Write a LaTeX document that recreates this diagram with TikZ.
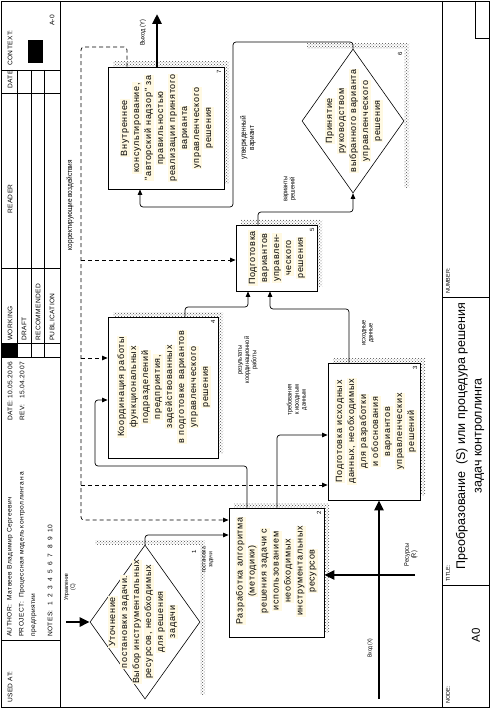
\documentclass[tikz,border=0pt]{standalone}
\usepackage{fontspec}
\setmainfont{Liberation Sans}
\newfontfamily\boxfont[LetterSpace=8]{Liberation Sans}
\newfontfamily\hdrfont[LetterSpace=6]{Liberation Sans}
\newfontfamily\lblfont[FakeStretch=0.85]{Liberation Sans}
\usetikzlibrary{shapes.geometric,arrows.meta,patterns}
\definecolor{hlc}{RGB}{255,249,226}
\newcommand{\hl}[1]{{\setlength{\fboxsep}{0.6pt}\colorbox{hlc}{\rule[-2.2pt]{0pt}{8.6pt}#1}}}
\tikzset{
  boxr/.style={draw, line width=0.8pt, fill=white, inner sep=0pt, rectangle},
  dia/.style={draw, line width=0.6pt, diamond, inner sep=0pt},
  shd/.style={pattern=crosshatch dots, pattern color=black!70},
  bt/.style={rotate=90, align=center, inner sep=0pt, font=\boxfont\fontsize{9}{12}\selectfont},
  numl/.style={rotate=90, inner sep=0pt, font=\fontsize{6}{7}\selectfont},
  lbl/.style={rotate=90, align=center, inner sep=0pt, font=\lblfont\fontsize{6.6}{7.2}\selectfont},
  slbl/.style={lbl, font=\lblfont\fontsize{5.8}{6.6}\selectfont},
  blbl/.style={lbl, font=\lblfont\fontsize{7.6}{8.4}\selectfont},
  hdr/.style={rotate=90, anchor=west, inner sep=0pt, font=\hdrfont\fontsize{6.6}{8}\selectfont},
  arr/.style={line width=0.7pt, rounded corners=3pt, -{Triangle[length=5.5pt,width=4.5pt]}},
  dsh/.style={dash pattern=on 4pt off 3pt},
  thk/.style={line width=2.8pt, -{Triangle[length=10pt,width=9pt]}},
}
\begin{document}
\begin{tikzpicture}[x=1pt,y=-1pt]
\useasboundingbox (0,0) rectangle (490,708);
% ---------- frame ----------
\draw[line width=0.8pt] (1,1) rectangle (489,707);
\draw[line width=0.8pt] (60,1) -- (60,707);
\draw[line width=0.8pt] (442,1) -- (442,707);
% header divisions
\draw[line width=0.6pt] (1,640) -- (60,640);
\draw[line width=0.6pt] (1,357) -- (60,357);
\draw[line width=0.6pt] (1,343) -- (60,343);
\draw[line width=0.6pt] (1,268) -- (60,268);
\draw[line width=0.6pt] (1,93) -- (60,93);
\draw[line width=0.6pt] (1,70) -- (60,70);
\foreach \xx in {17,31,44} \draw[line width=0.6pt] (\xx,70) -- (\xx,357);
\fill (1,343) rectangle (17,357);
\fill (28,40) rectangle (43,63);
% footer divisions
\draw[line width=0.6pt] (442,585) -- (489,585);
\draw[line width=0.6pt] (442,297) -- (489,297);
\draw[line width=0.6pt] (475,1) -- (475,38) -- (489,38);
% header texts
\node[hdr] (h1) at (10,703) {USED AT:};
\node[hdr] (h2) at (10,637) {AUTHOR:\ \ Матвеев Владимир Сергеевич};
\node[hdr] (h3) at (22,637) {PROJECT:\ \ Процессная модель контроллинга на};
\node[hdr] (h4) at (34,637) {предприятии};
\node[hdr] (h5) at (50,637) {NOTES:\ \ 1\ \ 2\ \ 3\ \ 4\ \ 5\ \ 6\ \ 7\ \ 8\ \ 9\ \ 10};
\node[hdr] (h6) at (10,421) {DATE:};
\node[hdr] (h7) at (10,399) {10.05.2006};
\node[hdr] (h8) at (22,421) {REV:};
\node[hdr] (h9) at (22,399) {15.04.2007};
\node[hdr] (h10) at (10,341) {WORKING};
\node[hdr] (h11) at (24,341) {DRAFT};
\node[hdr] (h12) at (38,341) {RECOMMENDED};
\node[hdr] (h13) at (52,341) {PUBLICATION};
\node[hdr] (h14) at (10,214) {READER};
\node[hdr] (h15) at (10,89) {DATE};
\node[hdr] (h16) at (10,66) {CONTEXT:};
\node[hdr] (h17) at (52,26) {A-0};
% footer texts
\node[hdr, font=\fontsize{5.5}{6}\selectfont] (f1) at (448,704) {NODE:};
\node[rotate=90, inner sep=0pt, font=\fontsize{11.5}{13}\selectfont] (f2) at (476,635) {A0};
\node[hdr, font=\fontsize{5.5}{6}\selectfont] (f3) at (448,582) {TITLE:};
\node[rotate=90, align=center, inner sep=0pt, font=\fontsize{12.5}{16.5}\selectfont] (f4) at (470,436)
  {Преобразование\ \ (S) или процедура решения\\задач контроллинга};
\node[hdr, font=\fontsize{5.5}{6}\selectfont] (f5) at (448,294) {NUMBER:};
% ---------- shadows ----------
\fill[shd] (95,540) rectangle (205,694);
\fill[shd] (234,503) rectangle (329,632);
\fill[shd] (333,358) rectangle (425,495);
\fill[shd] (113,312) rectangle (223,453);
\fill[shd] (241,220) rectangle (322,286);
\fill[shd] (307,44) rectangle (409,188);
\fill[shd] (113,62) rectangle (229,184);
\fill[white] (90,545) rectangle (200,699);
\fill[white] (302,49) rectangle (404,193);
% ---------- boxes ----------
\node[dia, minimum width=110pt, minimum height=154pt] (d1) at (145,622) {};
\node[boxr, minimum width=95pt, minimum height=129pt] (b2) at (276.5,572.5) {};
\node[boxr, minimum width=92pt, minimum height=137pt] (b3) at (374,431.5) {};
\node[boxr, minimum width=110pt, minimum height=141pt] (b4) at (163,387.5) {};
\node[boxr, minimum width=81pt, minimum height=66pt] (b5) at (276.5,258) {};
\node[dia, minimum width=102pt, minimum height=144pt] (d6) at (353,121) {};
\node[boxr, minimum width=116pt, minimum height=122pt] (b7) at (166,128) {};
% box texts
\node[bt] (t1) at (143,622) {\hl{Уточнение}\\\hl{постановки задачи.}\\\hl{Выбор инструментальных}\\\hl{ресурсов, необходимых}\\\hl{для решения}\\\hl{задачи}};
\node[bt] (t2) at (276.5,571) {\hl{Разработка алгоритма}\\\hl{(методики)}\\\hl{решения задачи с}\\\hl{использованием}\\\hl{необходимых}\\\hl{инструментальных}\\\hl{ресурсов}};
\node[bt] (t3) at (376,431.5) {\hl{Подготовка исходных}\\\hl{данных, необходимых}\\\hl{для разработки}\\\hl{и обоснования}\\\hl{вариантов}\\\hl{управленческих}\\\hl{решений}};
\node[bt] (t4) at (164,387) {\hl{Координация работы}\\\hl{функциональных}\\\hl{подразделений}\\\hl{предприятия,}\\\hl{задействованных}\\\hl{в подготовке вариантов}\\\hl{управленческого}\\\hl{решения}};
\node[bt] (t5) at (277,258) {\hl{Подготовка}\\\hl{вариантов}\\\hl{управлен-}\\\hl{ческого}\\\hl{решения}};
\node[bt] (t6) at (354,121) {\hl{Принятие}\\\hl{руководством}\\\hl{выбранного варианта}\\\hl{управленческого}\\\hl{решения}};
\node[bt] (t7) at (167,128) {\hl{Внутреннее}\\\hl{консультирование,}\\\hl{"авторский надзор" за}\\\hl{правильностью}\\\hl{реализации принятого}\\\hl{варианта}\\\hl{управленческого}\\\hl{решения}};
% box numbers
\node[numl] (n1) at (194,552) {1};
\node[numl] (n2) at (319,513) {2};
\node[numl] (n3) at (415,368) {3};
\node[numl] (n4) at (213,322) {4};
\node[numl] (n5) at (312,230) {5};
\node[numl] (n6) at (400,54) {6};
\node[numl] (n7) at (219,72) {7};
% ---------- connectors ----------
\coordinate (fbk) at (81,47);
\coordinate (j5) at (81,260);
\coordinate (j4) at (81,358);
\coordinate (j3) at (81,485);
\draw[arr] (d1.north) |- (b2.west |- 0,535);
\draw[arr, dsh] (b7.north -| 127,0) |- (fbk) |- (b2.west |- 0,520);
\draw[arr, dsh] (j5) -- (b5.west |- j5);
\draw[arr, dsh] (j4) -- (b4.west |- j4);
\draw[arr, dsh] (j3) -- (b3.west |- j3);
\draw[arr] (b2.north -| 247,0) |- (95,466) |- (b4.west |- 0,400);
\draw[arr] (b2.north -| 277,0) |- (b3.west |- 0,435);
\draw[arr] (b4.north -| 185,0) |- (248,307) -- (b5.south -| 248,0);
\draw[arr] (b3.north -| 349,0) |- (270,309) -- (b5.south -| 270,0);
\draw[arr] (b5.north -| 258,0) |- (d6.south |- 0,212) -- (d6.south);
\draw[arr] (d6.north) |- (233,42) |- (140,207) -- (b7.south -| 140,0);
% boundary arrows
\coordinate (yout) at (157,14);
\coordinate (cin) at (66,622);
\coordinate (xin) at (379,699);
\coordinate (rin) at (415,575);
\draw[thk] (b7.north -| yout) -- (yout);
\draw[thk] (cin) -- (d1.west);
\draw[thk] (xin) -- (b3.south -| xin);
\draw[thk] (rin) -- (b2.east |- rin);
% ---------- arrow labels ----------
\node[slbl] (l1) at (70,587) {Управление\\(C)};
\node[slbl] (l2) at (208,560) {постановка\\задачи};
\node[slbl] (l3) at (370,648) {Вход (X)};
\node[lbl] (l4) at (411,555) {Ресурсы\\(R)};
\node[lbl] (l5) at (143,33) {Выход (Y)};
\node[blbl] (l6) at (70,205) {корректирующие воздействия};
\node[lbl] (l7) at (297,400) {требования\\к исходным\\данным};
\node[lbl] (l8) at (248,360) {результаты\\координационной\\работы};
\node[lbl] (l9) at (368,333) {исходные\\данные};
\node[lbl] (l10) at (290,189) {варианты\\решений};
\node[blbl] (l11) at (248,138) {утвержденный\\вариант};
\end{tikzpicture}
\end{document}
